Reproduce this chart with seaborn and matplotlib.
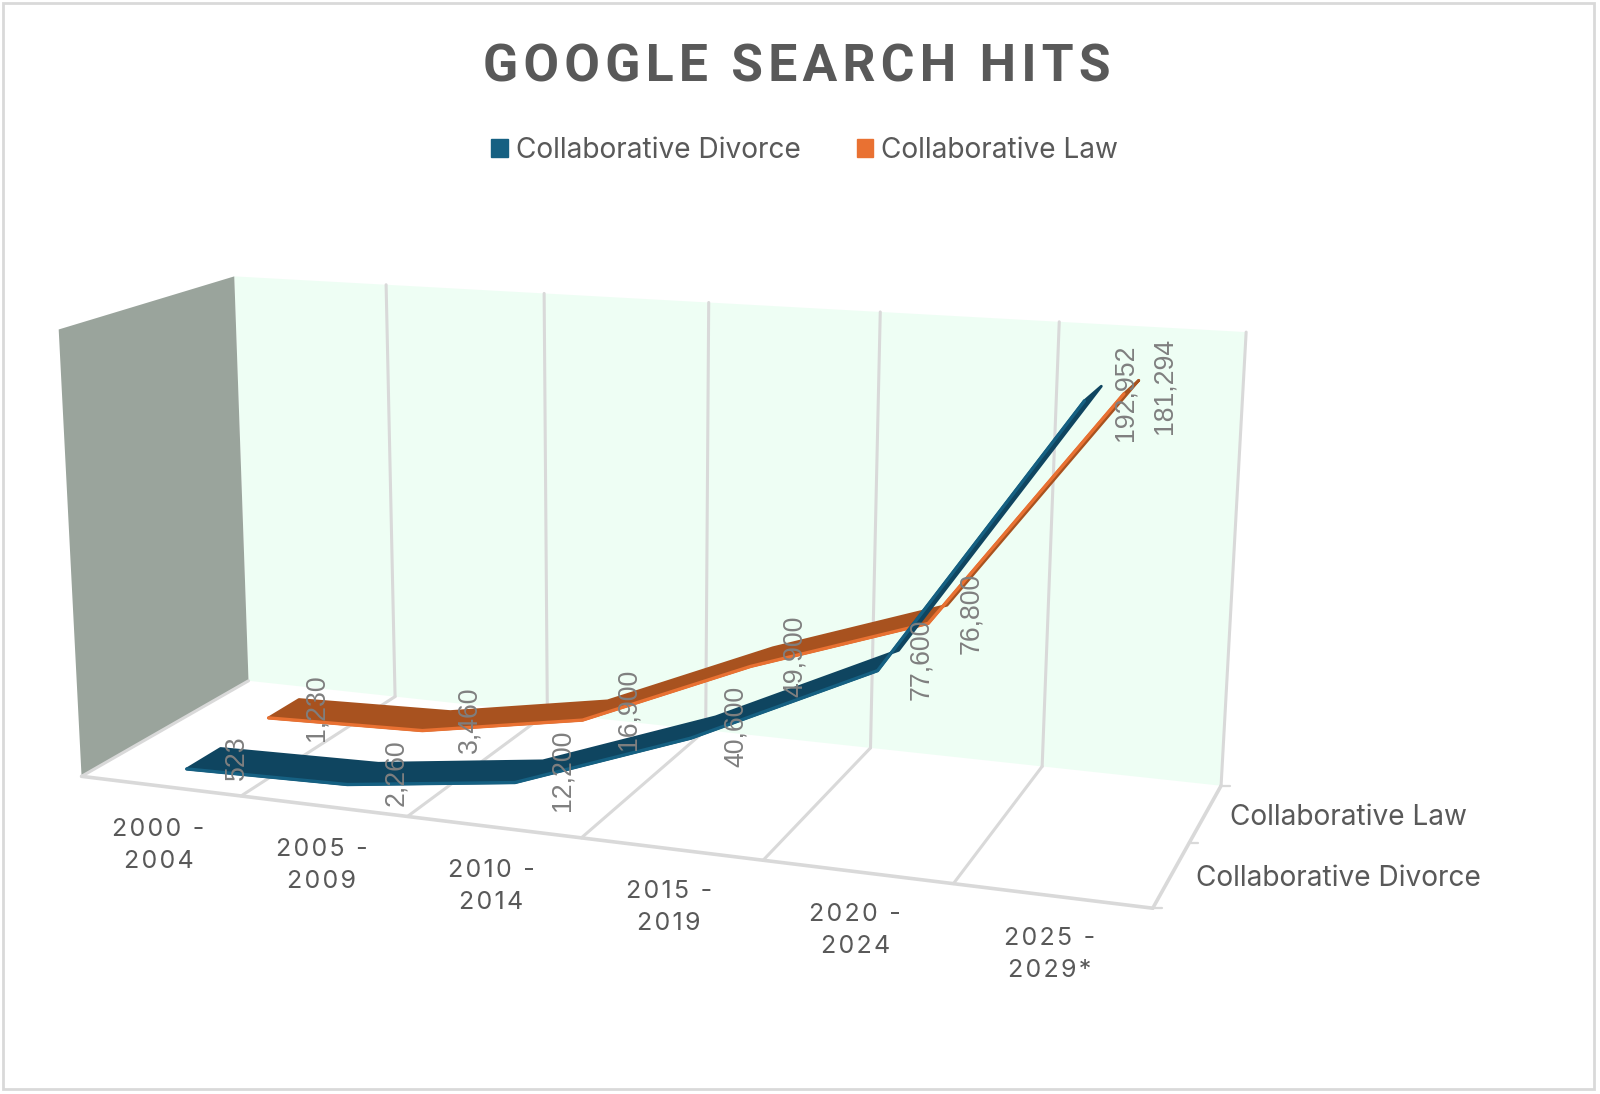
import numpy as np
import pandas as pd
import seaborn as sns
import matplotlib.pyplot as plt
from matplotlib.patches import Rectangle, Patch

# Values
periods = ["2000 -\n2004", "2005 -\n2009", "2010 -\n2014", "2015 -\n2019", "2020 -\n2024", "2025 -\n2029*"]
divorce_hits = [523, 2260, 12200, 40600, 77600, 192952]
law_hits = [1230, 3460, 16900, 49900, 76800, 181294]
series_names = ["Collaborative Divorce", "Collaborative Law"]

Y_MAX = 200000
DEPTH_HALF = 0.2

BLUE, BLUE_DARK = "#156082", "#0F4560"
ORANGE, ORANGE_DARK = "#E97132", "#A8521F"
GRID = "#D9D9D9"
TEXT = "#595959"

# Where the corners of the 3D box sit in the picture (x, value, depth) -> pixels
box_world = [(0, 1, 1), (1, 1, 1), (1, 0, 1), (0, 0, 1), (0, 1, 0), (0, 0, 0), (1, 0, 0)]
box_pixels = [(235, 276), (1246, 332), (1221, 786), (248, 681), (58, 330), (82, 776), (1153, 908)]


def fit_camera(world, pixels):
    rows = []
    for (X, Y, Z), (u, v) in zip(world, pixels):
        rows.append([X, Y, Z, 1, 0, 0, 0, 0, -u * X, -u * Y, -u * Z, -u])
        rows.append([0, 0, 0, 0, X, Y, Z, 1, -v * X, -v * Y, -v * Z, -v])
    return np.linalg.svd(np.array(rows, dtype=float))[2][-1].reshape(3, 4)


camera = fit_camera(box_world, box_pixels)


def project(cat, value, depth):
    # cat in 0..6, value in hits, depth in 0..2
    cat, value, depth = np.broadcast_arrays(cat, value, depth)
    world = np.stack([cat / 6, value / Y_MAX, depth / 2, np.ones(cat.shape)])
    u, v, w = camera @ world
    return u / w, v / w


sns.set_theme(style="white")
plt.rcParams["font.family"] = ["Inter", "DejaVu Sans"]

fig, ax = plt.subplots(figsize=(16, 10.94), dpi=100)
ax.set_position([0, 0, 1, 1])
ax.add_patch(Rectangle((3, 3), 1591, 1086, fill=False, ec=GRID, lw=2))


def box_poly(cats, values, depths, **kw):
    ax.fill(*project(np.array(cats, float), np.array(values, float) * Y_MAX, np.array(depths, float)), lw=0, **kw)


def box_line(p, q, lw=2.2):
    ends = np.array([p, q], dtype=float)
    ax.plot(*project(ends[:, 0], ends[:, 1], ends[:, 2]), color=GRID, lw=lw, solid_capstyle="round", zorder=2)


# walls
box_poly([0, 6, 6, 0], [1, 1, 0, 0], [2, 2, 2, 2], color="#EEFEF4", zorder=1)
box_poly([0, 0, 0, 0], [1, 1, 0, 0], [2, 0, 0, 2], color="#9AA49C", zorder=1)

# gridlines and floor edges
for c in range(1, 7):
    box_line((c, Y_MAX, 2), (c, 0, 2))
for c in range(1, 6):
    box_line((c, 0, 2), (c, 0, 0))
box_line((0, 0, 0), (6, 0, 0), lw=2.6)
box_line((0, 0, 0), (0, 0, 2))
box_line((6, 0, 0), (6, 0, 2), lw=2.6)
for d in range(3):
    u, v = project(6, 0, d)
    ax.plot([u, u + 9], [v, v], color=GRID, lw=1.6, zorder=2)

# ribbons, back series first
cats = np.arange(6) + 0.5
rows = []
for name, hits, depth, dark, z in [(series_names[1], law_hits, 1.5, ORANGE_DARK, 3),
                                   (series_names[0], divorce_hits, 0.5, BLUE_DARK, 5)]:
    hits = np.array(hits, float)
    fu, fv = project(cats, hits, depth - DEPTH_HALF)
    bu, bv = project(cats, hits, depth + DEPTH_HALF)
    ax.fill(np.r_[fu, bu[::-1]], np.r_[fv, bv[::-1]], fc=dark, ec=dark, lw=2, joinstyle="round", zorder=z)
    rows.append(pd.DataFrame({"u": fu, "v": fv, "series": name, "point": range(6)}))
    # data labels
    cu, cv = project(cats, hits, depth)
    for i in range(6):
        ax.text(cu[i] + 33, cv[i] - 1, f"{int(hits[i]):,}", rotation=90, ha="center", va="center",
                fontsize=19.2, color="#7F7F7F", family="Liberation Sans", zorder=8)

edges = pd.concat(rows, ignore_index=True)
law_edge = edges[edges["series"] == series_names[1]]
sns.lineplot(data=law_edge, x="u", y="v", sort=False, color=ORANGE, lw=2.4, legend=False, ax=ax, zorder=4)
div_edge = edges[edges["series"] == series_names[0]]
sns.lineplot(data=div_edge, x="u", y="v", sort=False, color=BLUE, lw=2.4, legend=False, ax=ax, zorder=6)
ax.set_xlim(0, 1600)
ax.set_ylim(1094, 0)
ax.axis("off")


def spaced(s):
    return "\n".join("\u200a".join(line) for line in s.split("\n"))


# category labels under the front edge
for i, label in enumerate(periods):
    u, v = project(i + 0.5, 0, 0)
    ax.text(u - 2, v + 59, spaced(label), ha="center", va="center", fontsize=18, color=TEXT,
            linespacing=1.5, zorder=9)

# depth axis labels
for name, depth in zip(series_names, [0.5, 1.5]):
    u, v = project(6, 0, depth)
    ax.text(u + 25, v + 4, name, ha="left", va="center", fontsize=20.2, color=TEXT, zorder=9)

ax.text(797, 68, "\u200a".join("GOOGLE SEARCH HITS"), ha="center", va="center", fontsize=37.2,
        fontweight="bold", family=["Roboto", "Liberation Sans"], color=TEXT)

handles = [Patch(color=BLUE, label=series_names[0]), Patch(color=ORANGE, label=series_names[1])]
ax.legend(handles=handles, loc="center", bbox_to_anchor=(0.503, 0.8625), ncol=2, frameon=False, fontsize=20.2,
          handlelength=0.58, handleheight=0.58, handletextpad=0.29, columnspacing=2.0, labelcolor=TEXT)

fig.savefig("out.png", dpi=100)
